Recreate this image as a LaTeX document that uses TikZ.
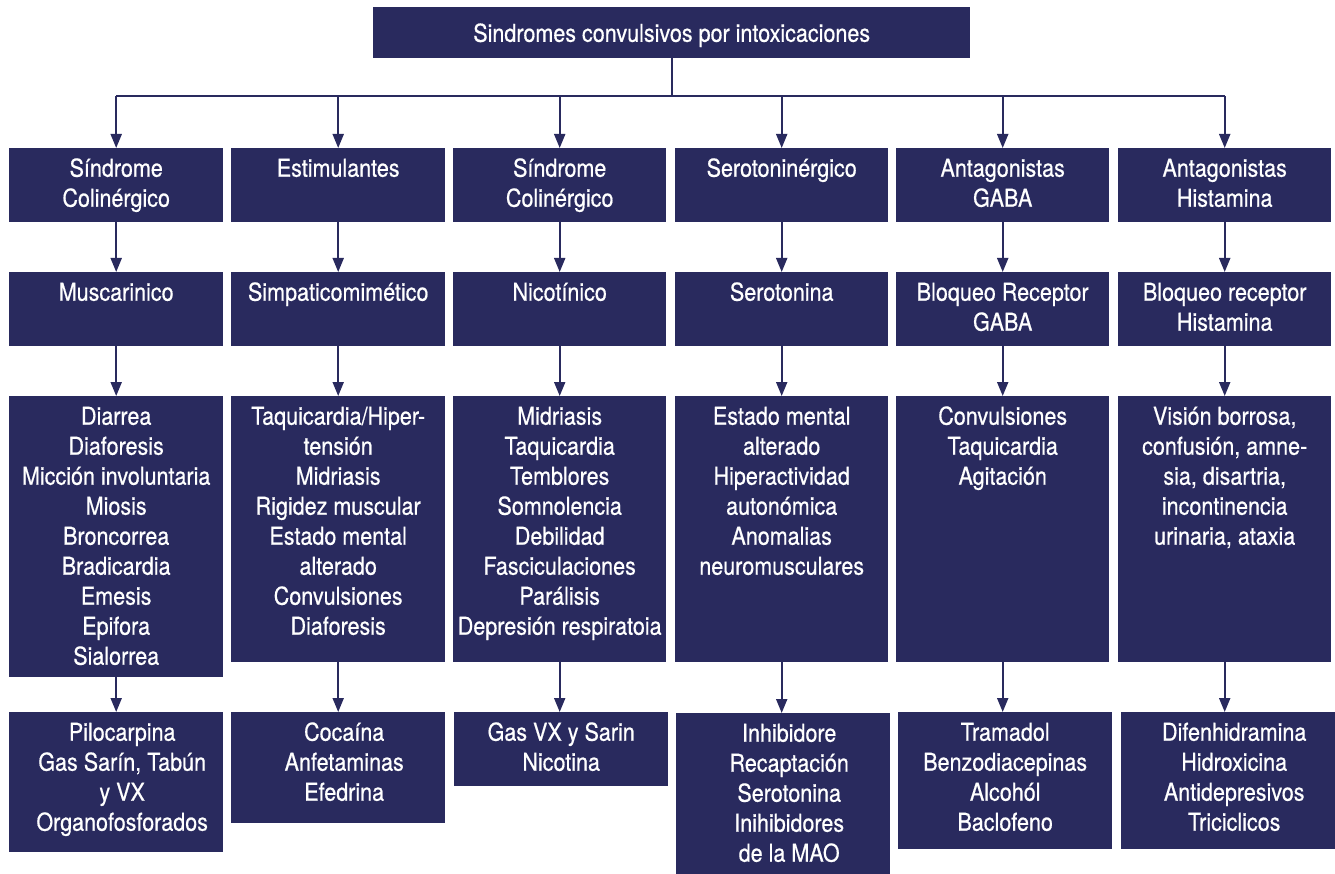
\documentclass[tikz,border=0pt]{standalone}
\usepackage{fontspec}
\setmainfont[FakeStretch=0.875, FakeBold=0.6]{TeX Gyre Heros}
\usetikzlibrary{arrows.meta}
\definecolor{navy}{RGB}{41,42,94}
\tikzset{
  boxsty/.style={fill=navy, draw=none, inner sep=0pt, anchor=north west},
  txtsty/.style={text=white, align=center, inner sep=0pt, anchor=north,
                 font=\fontsize{24.6}{30}\selectfont},
  link/.style={draw=navy, line width=2pt},
  arr/.style={link, -{Triangle[length=14pt,width=11pt]}},
}
% #1 name, #2 left, #3 top, #4 right, #5 bottom, #6 text x-offset, #7 lines
\newcommand\panel[7]{%
  \node[boxsty, minimum width={#4-#2}, minimum height={#5-#3}] (#1) at (#2,#3) {};
  \node[txtsty] (#1-t) at ([xshift=#6pt, yshift=-6.5pt]#1.north) {\rule{0pt}{22pt}#7};
}
\begin{document}
\begin{tikzpicture}[x=1pt, y=-1pt]
\useasboundingbox (0,0) rectangle (1335,874);

% title
\node[boxsty, minimum width=597, minimum height=51] (title) at (373,7) {};
\node[txtsty, anchor=base] (title-t) at ([yshift=-34.8pt]title.north) {Sindromes convulsivos por intoxicaciones};

% row 1: families
\panel{a1}{9}{148}{223}{222}{0}{Síndrome\\Colinérgico}
\panel{b1}{231}{148}{445}{222}{0}{Estimulantes}
\panel{c1}{453}{148}{666}{222}{0}{Síndrome\\Colinérgico}
\panel{d1}{675}{148}{888}{222}{0}{Serotoninérgico}
\panel{e1}{896}{148}{1109}{222}{0}{Antagonistas\\GABA}
\panel{f1}{1118}{148}{1331}{222}{0}{Antagonistas\\Histamina}

% row 2: mechanism
\panel{a2}{9}{272}{223}{346}{0}{Muscarinico}
\panel{b2}{231}{272}{445}{346}{0}{Simpaticomimético}
\panel{c2}{453}{272}{666}{346}{0}{Nicotínico}
\panel{d2}{675}{272}{888}{346}{0}{Serotonina}
\panel{e2}{896}{272}{1109}{346}{0}{Bloqueo Receptor\\GABA}
\panel{f2}{1118}{272}{1331}{346}{0}{Bloqueo receptor\\Histamina}

% row 3: clinical signs
\panel{a3}{9}{396}{223}{677}{0}{Diarrea\\Diaforesis\\Micción involuntaria\\Miosis\\Broncorrea\\Bradicardia\\Emesis\\Epifora\\Sialorrea}
\panel{b3}{231}{396}{445}{662}{0}{Taquicardia/Hiper-\\tensión\\Midriasis\\Rigidez muscular\\Estado mental\\alterado\\Convulsiones\\Diaforesis}
\panel{c3}{453}{396}{666}{662}{0}{Midriasis\\Taquicardia\\Temblores\\Somnolencia\\Debilidad\\Fasciculaciones\\Parálisis\\Depresión respiratoia}
\panel{d3}{675}{396}{888}{662}{0}{Estado mental\\alterado\\Hiperactividad\\autonómica\\Anomalias\\neuromusculares}
\panel{e3}{896}{396}{1109}{662}{0}{Convulsiones\\Taquicardia\\Agitación}
\panel{f3}{1118}{396}{1331}{662}{0}{Visión borrosa,\\confusión, amne-\\sia, disartria,\\incontinencia\\urinaria, ataxia}

% row 4: agents
\panel{a4}{9}{712}{223}{852}{6}{Pilocarpina\\Gas Sarín, Tabún\\y VX\\Organofosforados}
\panel{b4}{231}{712}{445}{823}{6}{Cocaína\\Anfetaminas\\Efedrina}
\panel{c4}{454}{712}{668}{786}{0}{Gas VX y Sarin\\Nicotina}
\panel{d4}{676}{713}{890}{874}{6}{Inhibidore\\Recaptación\\Serotonina\\Inihibidores\\de la MAO}
\panel{e4}{898}{712}{1112}{849}{0}{Tramadol\\Benzodiacepinas\\Alcohól\\Baclofeno}
\panel{f4}{1121}{712}{1335}{849}{6}{Difenhidramina\\Hidroxicina\\Antidepresivos\\Triciclicos}

% distribution bus from the title
\coordinate (bus) at ([yshift=-38pt]title.south);
\draw[link] (title.south) -- (bus);
\draw[link] (a1.north |- bus) -- (f1.north |- bus);
\foreach \c in {a,b,c,d,e,f}
  \draw[arr] (\c1.north |- bus) -- (\c1.north);

% downward chains within each column
\foreach \c in {a,b,c,d,e,f}{
  \draw[arr] (\c1.south) -- (\c1.south |- \c2.north);
  \draw[arr] (\c2.south) -- (\c2.south |- \c3.north);
  \draw[arr] (\c3.south) -- (\c3.south |- \c4.north);
}
\end{tikzpicture}
\end{document}
